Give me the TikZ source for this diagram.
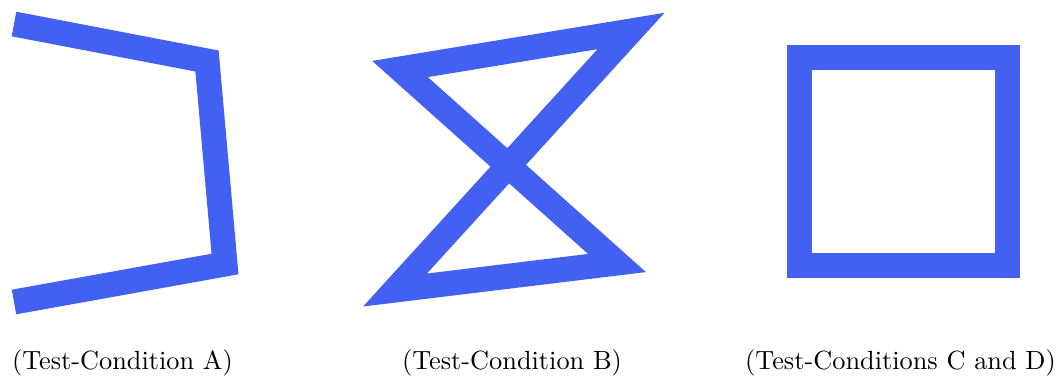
\documentclass[tikz,border=0pt]{standalone}
\usepackage{xcolor}
\usepackage{tikz}
\usetikzlibrary{positioning}
\definecolor{pathblue}{RGB}{66,97,242}
\tikzset{
  testpath/.style={draw=pathblue, line width=9.5pt, line join=miter,
                   miter limit=10},
  caption/.style ={anchor=base, inner sep=0pt, font=\normalsize},
}
\begin{document}
\begin{tikzpicture}[x=0.38pt,y=-0.38pt]
  \useasboundingbox (0,0) rectangle (1057,376);
  %% Test-Condition A: open polyline
  \draw[testpath] (14,24) -- (207,61) -- (225,264) -- (14,302);
  %% Test-Condition B: crossed quadrilateral
  \draw[testpath] (631,31) -- (400,69) -- (617,263) -- (395,290) -- cycle;
  %% Test-Conditions C and D: square
  \draw[testpath] (799.5,57.5) rectangle (1007.5,265.5);
  %% captions
  \node[caption] (capA) at (122.5,369) {(Test-Condition A)};
  \node[caption] (capB) at (512,369)   {(Test-Condition B)};
  \node[caption] (capC) at (900.5,369) {(Test-Conditions C and D)};
\end{tikzpicture}
\end{document}
